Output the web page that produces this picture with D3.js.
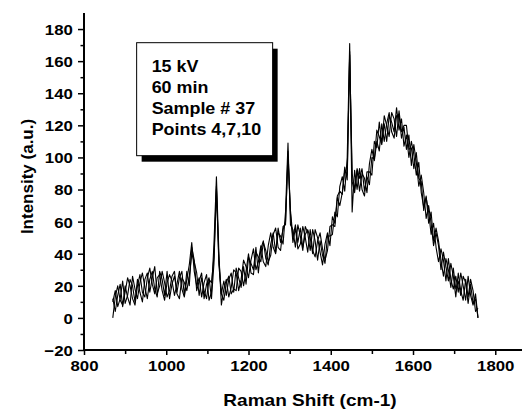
<!DOCTYPE html>
<html>
<head>
<meta charset="utf-8">
<script src="https://cdn.jsdelivr.net/npm/d3@7"></script>
<style>
	body { margin: 0; background: #fff; }
	text { font-family: 'Liberation Sans', Arial, sans-serif; font-weight: bold; fill: #000; }
</style>
</head>
<body>
<div id="chart"></div>
<script>
// raman shift grid, cm-1 (one reading every 6 cm-1)
const shiftStart = 870,
	shiftEnd = 1760,
	shiftStep = 6;

// intensities (points 4, 7, 10)
const point4 = [
	0, 13, 20, 11, 8, 16, 25, 20, 12, 8,
	20, 27, 16, 13, 25, 31, 21, 15, 25, 27,
	17, 11, 22, 27, 23, 14, 21, 29, 18, 13,
	24, 33, 47, 29, 20, 25, 13, 22, 27, 11,
	16, 46, 88, 40, 8, 18, 24, 13, 19, 30,
	28, 17, 24, 36, 32, 25, 36, 43, 30, 35,
	45, 35, 32, 45, 53, 44, 40, 53, 51, 46,
	66, 109, 58, 55, 44, 58, 51, 42, 57, 53,
	42, 55, 48, 36, 48, 39, 34, 51, 51, 52,
	66, 63, 82, 88, 79, 100, 171, 66, 92, 80,
	93, 80, 76, 91, 91, 89, 110, 106, 122, 109,
	121, 110, 126, 122, 116, 131, 117, 124, 107, 114,
	100, 110, 102, 89, 97, 78, 69, 75, 66, 52,
	59, 44, 35, 43, 36, 23, 37, 24, 18, 26,
	16, 28, 20, 11, 26, 14, 8, 15, 0,
];
const point7 = [
	10, 17, 7, 12, 23, 9, 14, 24, 20, 10,
	24, 16, 10, 24, 28, 16, 25, 32, 15, 20,
	29, 22, 13, 17, 26, 29, 15, 12, 25, 22,
	17, 26, 40, 35, 28, 14, 25, 17, 12, 24,
	22, 38, 82, 33, 15, 11, 22, 26, 15, 18,
	17, 31, 29, 20, 29, 40, 28, 27, 41, 38,
	35, 47, 42, 35, 39, 52, 56, 44, 42, 57,
	58, 104, 65, 47, 56, 43, 46, 57, 50, 41,
	55, 42, 38, 48, 53, 43, 36, 42, 57, 58,
	57, 75, 70, 78, 94, 86, 166, 85, 78, 92,
	79, 90, 87, 78, 96, 105, 98, 110, 104, 121,
	110, 121, 128, 116, 112, 126, 127, 112, 119, 105,
	114, 95, 108, 97, 82, 89, 78, 62, 70, 59,
	45, 53, 45, 30, 41, 32, 23, 34, 26, 13,
	28, 17, 11, 24, 13, 24, 17, 4, 6,
];
const point10 = [
	12, 4, 14, 21, 7, 20, 13, 8, 26, 18,
	12, 22, 28, 19, 12, 24, 29, 18, 13, 29,
	24, 14, 29, 12, 21, 26, 16, 25, 29, 14,
	29, 20, 44, 36, 17, 23, 28, 12, 21, 25,
	12, 34, 80, 36, 15, 23, 14, 24, 28, 16,
	31, 25, 19, 32, 21, 38, 34, 30, 44, 28,
	43, 48, 37, 33, 46, 53, 41, 56, 47, 55,
	60, 100, 67, 50, 58, 47, 56, 44, 52, 55,
	50, 40, 55, 50, 41, 33, 46, 53, 45, 63,
	59, 76, 79, 77, 92, 89, 164, 90, 80, 93,
	87, 93, 79, 88, 83, 100, 99, 117, 113, 108,
	126, 120, 113, 128, 124, 113, 129, 116, 120, 120,
	105, 106, 93, 103, 87, 85, 67, 76, 59, 66,
	48, 56, 48, 36, 26, 37, 30, 19, 31, 18,
	23, 14, 26, 22, 9, 21, 9, 12, 0,
];

// axis ticks
const xTicks = [800, 1000, 1200, 1400, 1600, 1800];
const xMinorTicks = [900, 1100, 1300, 1500, 1700];
const yTicks = [-20, 0, 20, 40, 60, 80, 100, 120, 140, 160, 180];
const yMinorTicks = [-10, 10, 30, 50, 70, 90, 110, 130, 150, 170];

// annotation box lines
const noteLines = ['15 kV', '60 min', 'Sample # 37', 'Points 4,7,10'];

// set the dimensions and margins of the graph
const margin = { top: 13, right: 1, bottom: 61, left: 84 },
	width = 523 - margin.left - margin.right,
	height = 411 - margin.top - margin.bottom;

// the picture is a bit wider than tall, text looks stretched
const stretch = 'scale(1.12,1)';

const svg = d3
	.select('#chart')
	.append('svg')
	.attr('width', width + margin.left + margin.right)
	.attr('height', height + margin.top + margin.bottom)
	.append('g')
	.attr('transform', `translate(${margin.left},${margin.top})`);

const x = d3.scaleLinear().domain([800, 1865]).range([0, width]);
const y = d3.scaleLinear().domain([-20, 190]).range([height, 0]);

const shift = d3.range(shiftStart, shiftEnd, shiftStep);

// spectra
const line = d3
	.line()
	.x((d, i) => x(shift[i]))
	.y((d) => y(d));

svg
	.selectAll('.spectrum')
	.data([point4, point7, point10])
	.join('path')
	.attr('class', 'spectrum')
	.attr('d', line)
	.style('fill', 'none')
	.style('stroke', '#000')
	.style('stroke-width', '1.1px')
	.style('stroke-linejoin', 'round');

// minor ticks first, then the labelled ones
svg
	.append('g')
	.attr('transform', `translate(0,${height})`)
	.call(d3.axisBottom(x).tickValues(xMinorTicks).tickSize(4).tickFormat(''));
svg
	.append('g')
	.call(d3.axisLeft(y).tickValues(yMinorTicks).tickSize(3.5).tickFormat(''));

const xAxis = svg
	.append('g')
	.attr('transform', `translate(0,${height})`)
	.call(
		d3
			.axisBottom(x)
			.tickValues(xTicks)
			.tickSize(5)
			.tickPadding(5)
			.tickFormat(d3.format('d'))
	);
xAxis.selectAll('text').style('font-size', '15px').attr('transform', stretch);

const yAxis = svg
	.append('g')
	.call(
		d3
			.axisLeft(y)
			.tickValues(yTicks)
			.tickSize(6)
			.tickPadding(4)
			.tickFormat(d3.format('d'))
	);
yAxis
	.selectAll('text')
	.style('font-size', '15px')
	.attr('dy', '0.36em')
	.attr('transform', stretch);

svg.selectAll('.domain').style('stroke', '#000').style('stroke-width', '2px');
svg.selectAll('.tick line').style('stroke', '#000').style('stroke-width', '1.5px');
// no end caps on the axis lines
svg.selectAll('.domain').attr('d', function () {
	return d3.select(this.parentNode).attr('transform')
		? `M0,0H${width}`
		: `M0,0V${height}`;
});

// axis titles
svg
	.append('text')
	.attr('text-anchor', 'middle')
	.attr('transform', `translate(${width / 2 + 7},${height + 56}) ${stretch}`)
	.style('font-size', '17px')
	.text('Raman Shift (cm-1)');

svg
	.append('text')
	.attr('text-anchor', 'middle')
	.attr('transform', `translate(${-51},${height / 2 - 5}) rotate(-90)`)
	.style('font-size', '17px')
	.text('Intensity (a.u.)');

// annotation box with its drop shadow
const box = { x: x(928), y: y(171.5), w: 136, h: 113 };
svg
	.append('rect')
	.attr('x', box.x + 5)
	.attr('y', box.y + 6)
	.attr('width', box.w)
	.attr('height', box.h)
	.style('fill', '#000');
svg
	.append('rect')
	.attr('x', box.x)
	.attr('y', box.y)
	.attr('width', box.w)
	.attr('height', box.h)
	.style('fill', '#fff')
	.style('stroke', '#000')
	.style('stroke-width', '1px');

svg
	.selectAll('.note')
	.data(noteLines)
	.join('text')
	.attr('class', 'note')
	.attr(
		'transform',
		(d, i) => `translate(${box.x + 15},${box.y + 29 + i * 21}) ${stretch}`
	)
	.style('font-size', '16px')
	.text((d) => d);
</script>
</body>
</html>
